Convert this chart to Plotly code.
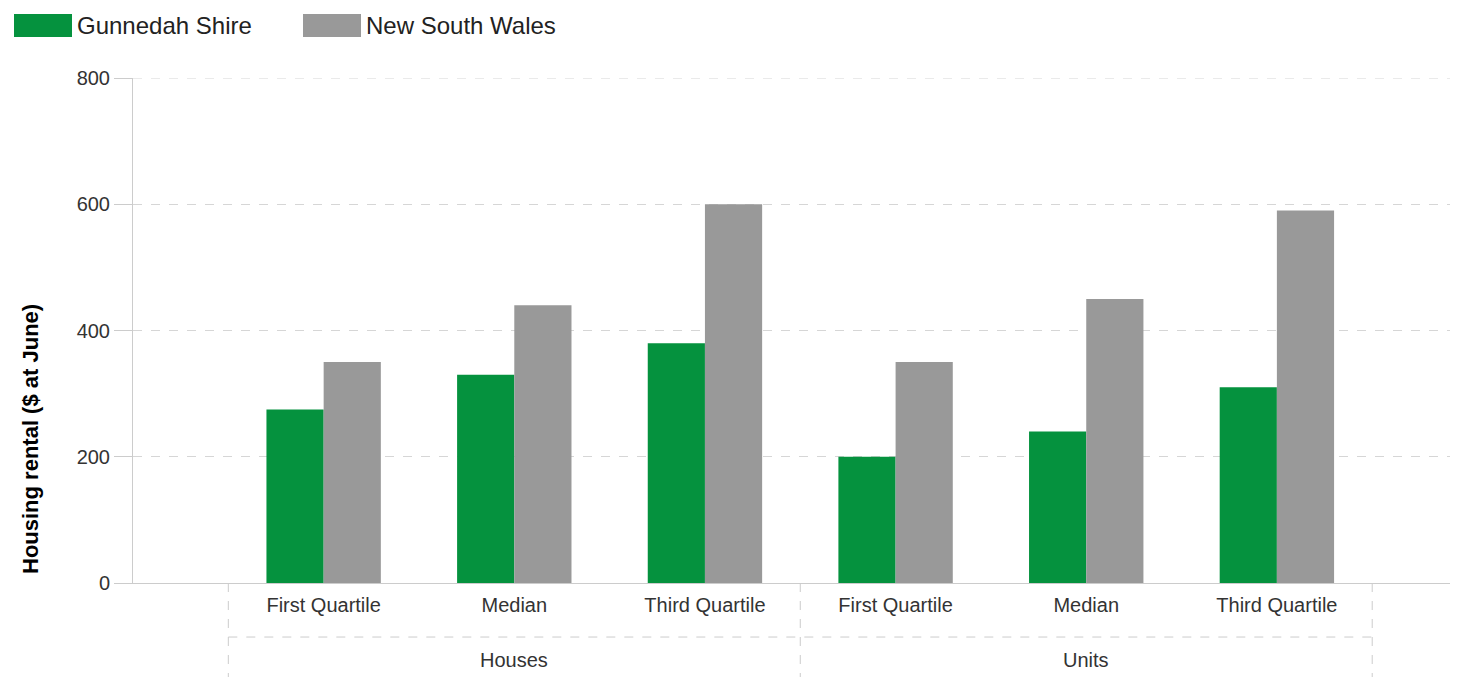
import plotly.graph_objects as go

groups = ["Houses", "Units"]
measure = ["First Quartile", "Median", "Third Quartile",
           "First Quartile", "Median", "Third Quartile"]
gunnedah = [275, 330, 380, 200, 240, 310]
nsw = [350, 440, 600, 350, 450, 590]
series = ["Gunnedah Shire", "New South Wales"]
colors = ["#05923e", "#999999"]
y_ticks = [0, 200, 400, 600, 800]

font = "Liberation Sans, Arial, sans-serif"

# figure geometry (the page adds an 8px body margin)
W, H = 1458, 677
L, R, T, B = 125, 8, 70, 102
pw, ph = W - L - R, H - T - B


def px_x(x):
    return (x - L) / pw


def px_y(y):
    return (H - B - y) / ph


idx = list(range(len(measure)))
per_group = len(measure) // len(groups)

fig = go.Figure()
for name, vals, col in zip(series, [gunnedah, nsw], colors):
    fig.add_trace(go.Bar(x=idx, y=vals, name=name, showlegend=False,
                         marker=dict(color=col, line=dict(width=0))))

# two-level category axis: dashed separators and group labels
grid = dict(color="#cccccc", width=1, dash="dash")
for g in range(len(groups) + 1):
    xv = g * per_group - 0.5
    fig.add_shape(type="line", xref="x", yref="paper", x0=xv, x1=xv,
                  y0=0, y1=-0.2, line=grid)
fig.add_shape(type="line", xref="x", yref="paper", x0=-0.5, x1=len(idx) - 0.5,
              y0=-0.107, y1=-0.107, line=grid)
for g, name in enumerate(groups):
    fig.add_annotation(x=g * per_group + (per_group - 1) / 2, xref="x",
                       y=-0.152, yref="paper", text=name, showarrow=False,
                       font=dict(size=20, color="#333333"), yanchor="middle")

# top gridline (plotly drops the one on the plot edge)
fig.add_shape(type="line", xref="paper", yref="y", x0=0, x1=1,
              y0=y_ticks[-1], y1=y_ticks[-1],
              line=dict(color="#d6d6d6", width=1, dash="dash"))

# legend drawn as large swatches
leg_x = [6, 295]
for lx, name, col in zip(leg_x, series, colors):
    fig.add_shape(type="rect", xref="paper", yref="paper",
                  x0=px_x(lx), x1=px_x(lx + 58), y0=px_y(6), y1=px_y(29),
                  fillcolor=col, line=dict(width=0))
    fig.add_annotation(xref="paper", yref="paper", x=px_x(lx + 61), y=px_y(18),
                       xanchor="left", yanchor="middle", text=name,
                       showarrow=False, font=dict(size=24, color="#222222"))

# y-axis title
fig.add_annotation(xref="paper", yref="paper", x=px_x(22), y=px_y(431),
                   text="<b>Housing rental ($ at June)</b>", textangle=-90,
                   showarrow=False, xanchor="center", yanchor="middle",
                   font=dict(size=22, color="#000000"))

fig.update_layout(
    width=W, height=H,
    margin=dict(l=L, r=R, t=T, b=B),
    plot_bgcolor="white", paper_bgcolor="white",
    font=dict(family=font, size=20, color="#333333"),
    barmode="group", bargap=0.4, bargroupgap=0,
    showlegend=False,
)
fig.update_yaxes(range=[0, 800], tickvals=y_ticks,
                 showgrid=True, gridcolor="#d6d6d6",
                 griddash="dash", showline=True, linecolor="#cccccc",
                 ticks="outside", ticklen=18, tickcolor="#cccccc",
                 zeroline=False, tickfont=dict(size=20))
fig.update_xaxes(range=[-1, 5.95], tickvals=idx, ticktext=measure,
                 showline=True, linecolor="#cccccc", showgrid=False,
                 zeroline=False, ticks="", tickfont=dict(size=20),
                 ticklabelstandoff=4)

fig.write_html("out.html")
